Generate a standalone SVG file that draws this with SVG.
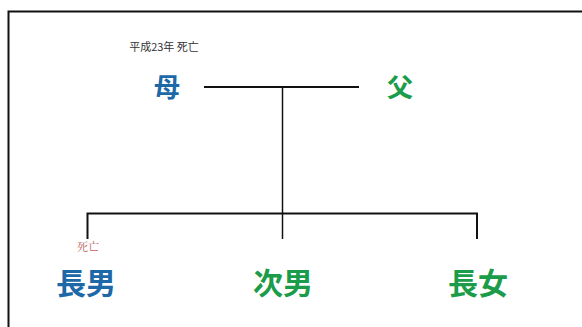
<svg xmlns="http://www.w3.org/2000/svg" width="582" height="327" viewBox="0 0 582 327">
<style>
.cjk{font-family:"Noto Sans CJK JP","Noto Sans CJK SC",sans-serif;font-weight:bold;text-anchor:middle}
.blue{fill:#1d68a6}
.green{fill:#1b9c4a}
.ln{stroke:#111;fill:none}
</style>
<rect width="582" height="327" fill="#fff"/>
<rect x="8.5" y="11.5" width="600" height="340" fill="none" stroke="#111" stroke-width="2"/>
<g id="connectors">
<line class="ln" x1="204" y1="87" x2="359" y2="87" stroke-width="2"/>
<line class="ln" x1="282.5" y1="87" x2="282.5" y2="239" stroke-width="1.5"/>
<polyline class="ln" points="87.5,239 87.5,213.5 477,213.5 477,239" stroke-width="2"/>
</g>
<g id="mother">
<text x="164" y="51" style="font-family:'Noto Sans CJK JP',sans-serif;font-size:11px;fill:#333;text-anchor:middle">平成23年 死亡</text>
<text class="cjk blue" x="167" y="97" font-size="26">母</text>
</g>
<g id="father">
<text class="cjk green" x="400" y="97" font-size="26">父</text>
</g>
<g id="son1">
<text x="88" y="251" style="font-family:'Noto Serif CJK JP','Noto Sans CJK JP',serif;font-size:11px;fill:#c06060;text-anchor:middle">死亡</text>
<text class="cjk blue" x="86" y="294" font-size="30">長男</text>
</g>
<g id="son2">
<text class="cjk green" x="283" y="294" font-size="30">次男</text>
</g>
<g id="daughter">
<text class="cjk green" x="478" y="294" font-size="30">長女</text>
</g>
</svg>
